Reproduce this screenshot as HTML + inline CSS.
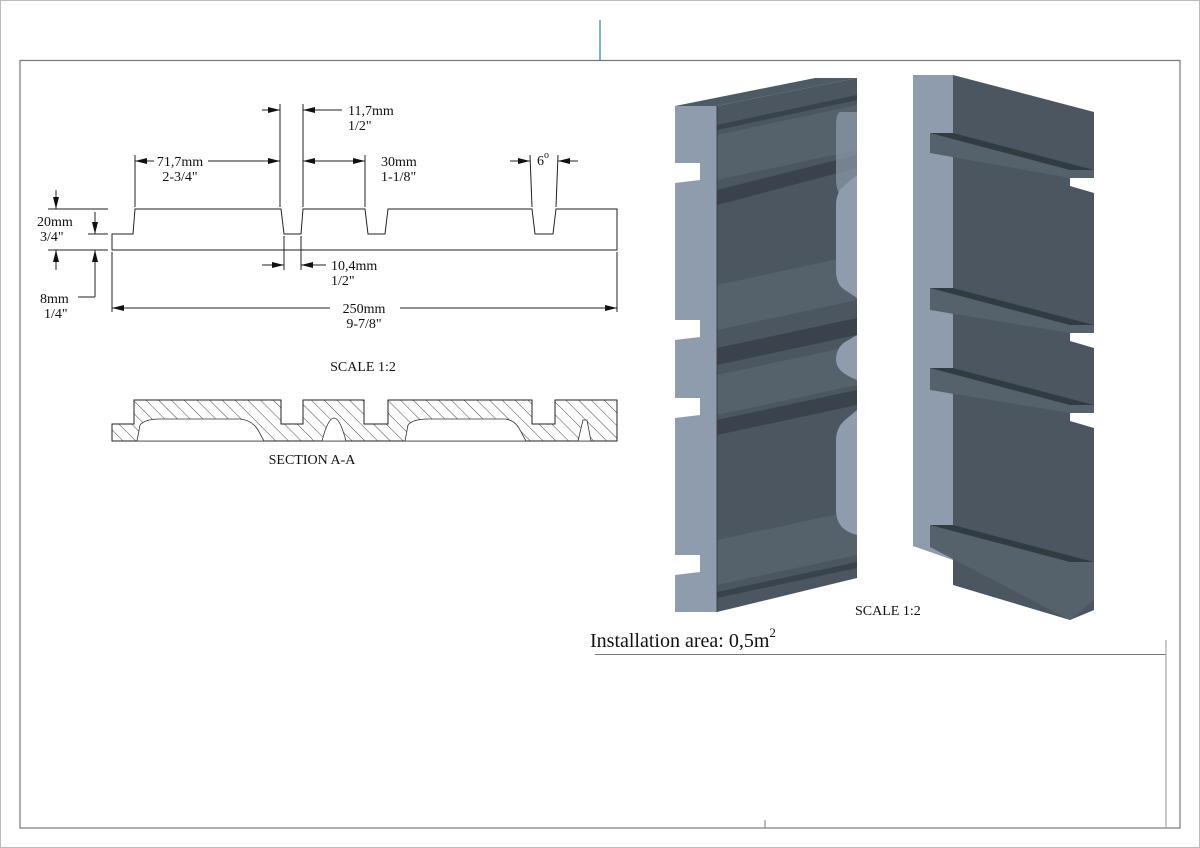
<!DOCTYPE html>
<html><head><meta charset="utf-8"><style>
html,body{margin:0;padding:0;background:#fff}
svg{display:block}
text{font-family:"Liberation Serif",serif;fill:#111}
</style></head><body>
<svg width="1200" height="848" viewBox="0 0 1200 848" xmlns="http://www.w3.org/2000/svg">
<defs>
<pattern id="h" patternUnits="userSpaceOnUse" width="9" height="9" patternTransform="rotate(-45)">
<rect width="9" height="9" fill="#fff"/><line x1="0" y1="0" x2="0" y2="9" stroke="#333" stroke-width="0.9"/>
</pattern>
<marker id="a" markerWidth="12" markerHeight="6" refX="12" refY="3" orient="auto" markerUnits="userSpaceOnUse"><path d="M0,0 L12,3 L0,6z" fill="#111"/></marker>
</defs>
<rect x="0.5" y="0.5" width="1199" height="847" fill="none" stroke="#bbb"/>
<line x1="600" y1="20" x2="600" y2="60" stroke="#2a8a8a" stroke-width="1.2"/>
<rect x="20" y="60.5" width="1160" height="767.5" fill="none" stroke="#777" stroke-width="1.2"/>

<g stroke="#222" stroke-width="1" fill="none">
<path d="M112,250 L112,234 L133,234 L135,209 L281,209 L284,234 L301,234 L303,209 L365,209 L368,234 L385,234 L388,209 L532,209 L535,234 L553,234 L556,209 L617,209 L617,250 Z"/>
<line x1="280" y1="104" x2="280" y2="207"/><line x1="303" y1="104" x2="303" y2="207"/>
<line x1="135" y1="155" x2="135" y2="207"/><line x1="365" y1="155" x2="365" y2="207"/>
<line x1="530" y1="155" x2="532" y2="207"/><line x1="558" y1="155" x2="556" y2="207"/>
<line x1="284" y1="236" x2="284" y2="270"/><line x1="301" y1="236" x2="301" y2="270"/>
<line x1="112" y1="252" x2="112" y2="312"/><line x1="617" y1="252" x2="617" y2="312"/>
<line x1="48" y1="209" x2="108" y2="209"/><line x1="48" y1="250" x2="108" y2="250"/>
<line x1="88" y1="234" x2="108" y2="234"/>
<line x1="262" y1="110" x2="280" y2="110" marker-end="url(#a)"/>
<line x1="342" y1="110" x2="303" y2="110" marker-end="url(#a)"/>
<line x1="154" y1="161" x2="135" y2="161" marker-end="url(#a)"/>
<line x1="208" y1="161" x2="280" y2="161" marker-end="url(#a)"/>
<line x1="330" y1="161" x2="303" y2="161" marker-end="url(#a)"/>
<line x1="330" y1="161" x2="365" y2="161" marker-end="url(#a)"/>
<line x1="510" y1="161" x2="530" y2="161" marker-end="url(#a)"/>
<line x1="578" y1="161" x2="558" y2="161" marker-end="url(#a)"/>
<line x1="262" y1="265" x2="284" y2="265" marker-end="url(#a)"/>
<line x1="326" y1="265" x2="301" y2="265" marker-end="url(#a)"/>
<line x1="330" y1="308" x2="112" y2="308" marker-end="url(#a)"/>
<line x1="400" y1="308" x2="617" y2="308" marker-end="url(#a)"/>
<line x1="56" y1="190" x2="56" y2="209" marker-end="url(#a)"/>
<line x1="56" y1="270" x2="56" y2="250" marker-end="url(#a)"/>
<line x1="95" y1="212" x2="95" y2="234" marker-end="url(#a)"/>
<line x1="95" y1="297" x2="95" y2="250" marker-end="url(#a)"/>
<line x1="78" y1="297" x2="95" y2="297"/>
</g>
<g font-size="14">
<text x="348" y="115">11,7mm</text><text x="348" y="130">1/2"</text>
<text x="180" y="166" text-anchor="middle">71,7mm</text><text x="180" y="181" text-anchor="middle">2-3/4"</text>
<text x="381" y="166">30mm</text><text x="381" y="181">1-1/8"</text>
<text x="537" y="165">6<tspan font-size="10" dy="-7">o</tspan></text>
<text x="331" y="270">10,4mm</text><text x="331" y="285">1/2"</text>
<text x="364" y="313" text-anchor="middle">250mm</text><text x="364" y="328" text-anchor="middle">9-7/8"</text>
<text x="37" y="226">20mm</text><text x="40" y="241">3/4"</text>
<text x="40" y="303">8mm</text><text x="44" y="318">1/4"</text>
<text x="363" y="371" text-anchor="middle">SCALE  1:2</text>
<text x="312" y="464" text-anchor="middle">SECTION  A-A</text>
</g>
<path d="M112,441 L112,424 L134,424 L134,400 L281,400 L281,424 L303,424 L303,400 L364,400 L364,424 L388,424 L388,400 L532,400 L532,424 L555,424 L555,400 L617,400 L617,441 Z" fill="url(#h)" stroke="#222" stroke-width="1"/>
<path d="M137,441 L140,425 Q145,419 160,419 L240,419 Q252,420 258,430 L264,441 Z" fill="#fff" stroke="#333" stroke-width="0.8"/>
<path d="M322,441 Q328,418 334,418 Q340,418 346,441 Z" fill="#fff" stroke="#333" stroke-width="0.8"/>
<path d="M405,441 L408,425 Q413,419 428,419 L505,419 Q515,420 520,430 L526,441 Z" fill="#fff" stroke="#333" stroke-width="0.8"/>
<path d="M578,441 L583,420 L587,420 L591,441 Z" fill="#fff" stroke="#333" stroke-width="0.8"/>

<polygon points="675,106 717,106 857,78 815,78" fill="#4e5a64"/>
<polygon points="675,106 717,106 717,612 675,612" fill="#8e9cad"/>
<polygon points="717,106 857,78 857,578 717,612" fill="#4b5660"/>
<g fill="#fff">
<polygon points="675,163 700,163 700,180 675,183"/><polygon points="675,320 700,320 700,337 675,340"/>
<polygon points="675,398 700,398 700,415 675,418"/><polygon points="675,555 700,555 700,572 675,575"/>
</g>
<g fill="#3a434c">
<polygon points="717,125 857,95 857,100 717,130"/>
<polygon points="717,190 857,155 857,168 717,205"/>
<polygon points="717,348 857,318 857,335 717,365"/>
<polygon points="717,420 857,390 857,405 717,435"/>
<polygon points="717,592 857,562 857,568 717,598"/>
</g>
<g fill="#55616b">
<polygon points="717,135 857,105 857,150 717,180"/>
<polygon points="717,285 857,255 857,300 717,330"/>
<polygon points="717,375 857,345 857,385 717,415"/>
<polygon points="717,540 857,510 857,555 717,585"/>
</g>
<path d="M857,112 L840,112 Q836,114 836,125 L836,180 Q836,195 848,205 L857,215 Z" fill="#8e9cad" opacity="0.7"/>
<path d="M857,175 L845,185 Q836,192 836,205 L836,270 Q836,285 845,290 L857,298 Z" fill="#8e9cad"/>
<path d="M857,335 L845,342 Q836,348 836,360 Q836,372 857,380 Z" fill="#8e9cad"/>
<path d="M857,410 L845,420 Q836,428 836,440 L836,510 Q836,530 857,535 Z" fill="#8e9cad"/>
<line x1="717" y1="106" x2="717" y2="612" stroke="#333" stroke-width="0.8"/>

<polygon points="913,75 953,75 953,560 913,546" fill="#8e9cad"/>
<polygon points="953,75 1094,112 1094,610 1070,620 953,585" fill="#4b5660"/>
<g>
<polygon points="930,133 953,133 1094,170 1094,178 1070,178 930,153" fill="#55616b"/>
<polygon points="930,133 953,133 1094,170 1070,170" fill="#333b42"/>
<polygon points="930,288 953,288 1094,325 1094,333 1070,333 930,310" fill="#55616b"/>
<polygon points="930,288 953,288 1094,325 1070,325" fill="#333b42"/>
<polygon points="930,368 953,368 1094,405 1094,413 1070,413 930,390" fill="#55616b"/>
<polygon points="930,368 953,368 1094,405 1070,405" fill="#333b42"/>
<polygon points="930,525 953,525 1094,562 1094,600 1070,620 930,547" fill="#55616b"/>
<polygon points="930,525 953,525 1094,562 1070,562" fill="#333b42"/>
</g>
<g fill="#fff">
<polygon points="1070,178 1094,178 1094,193 1070,186"/>
<polygon points="1070,333 1094,333 1094,348 1070,341"/>
<polygon points="1070,413 1094,413 1094,428 1070,421"/>
</g>
<text x="855" y="615" font-size="14">SCALE  1:2</text>

<text x="590" y="647" font-size="20">Installation area: 0,5m<tspan font-size="13" dy="-10">2</tspan></text>
<line x1="595" y1="654.5" x2="1166" y2="654.5" stroke="#777" stroke-width="1"/>
<line x1="1166" y1="640" x2="1166" y2="828" stroke="#999" stroke-width="1"/>
<line x1="765" y1="820" x2="765" y2="828" stroke="#777"/>
</svg>
</body></html>
